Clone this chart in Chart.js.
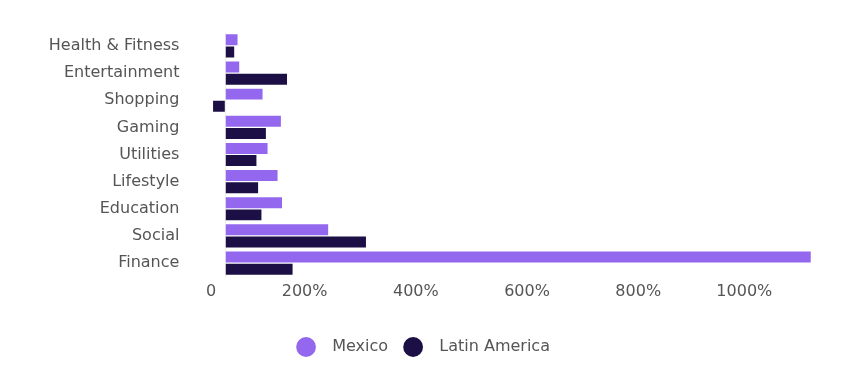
<!DOCTYPE html>
<html lang="en">
<head>
<meta charset="UTF-8">
<title>App category growth - Mexico vs Latin America</title>
<script src="https://cdn.jsdelivr.net/npm/chart.js"></script>
<style>
  html, body { margin: 0; padding: 0; background: #fff; }
  .chart-box { width: 865px; height: 373px; }
</style>
</head>
<body>
<div class="chart-box"><canvas id="growthChart"></canvas></div>
<script>
  // data (growth in %)
  const categories = ['Health & Fitness', 'Entertainment', 'Shopping', 'Gaming', 'Utilities', 'Lifestyle', 'Education', 'Social', 'Finance'];
  const mexicoValues = [22, 25, 67, 100, 76, 94, 102, 185, 1053];
  const latamValues = [16, 111, -22, 73, 56, 59, 65, 253, 121];
  const xTicks = [0, 200, 400, 600, 800, 1000];

  const textColor = '#555';
  const font = { family: 'DejaVu Sans', size: 16 };

  new Chart(document.getElementById('growthChart'), {
    type: 'bar',
    data: {
      labels: categories,
      datasets: [{
        label: 'Mexico',
        data: mexicoValues,
        backgroundColor: '#9468ee',
        borderWidth: 0
      }, {
        label: 'Latin America',
        data: latamValues,
        backgroundColor: '#1c0f45',
        borderWidth: 0
      }]
    },
    options: {
      indexAxis: 'y',
      responsive: true,
      maintainAspectRatio: false,
      animation: false,
      barPercentage: 0.9,
      categoryPercentage: 0.9,
      layout: { padding: { top: 32.4, right: 17, bottom: 8, left: 0 } },
      scales: {
        x: {
          type: 'linear',
          min: -25,
          max: 1120,
          afterBuildTicks: s => { s.ticks = xTicks.map(v => ({ value: v })); },
          afterFit: s => { s.height = 45.4; },
          border: { display: false },
          grid: {
            drawTicks: false,
            color: ctx => ctx.tick && ctx.tick.value === 0 ? '#eeeeee' : 'rgba(0,0,0,0)'
          },
          ticks: {
            align: 'end',
            labelOffset: -9,
            padding: 6,
            maxRotation: 0,
            color: textColor,
            font: font,
            callback: v => v === 0 ? '0' : v + '%'
          }
        },
        y: {
          afterFit: s => { s.width = 211.4; },
          border: { display: false },
          // invisible tick marks keep the labels away from the bars
          grid: { drawOnChartArea: false, drawTicks: true, tickLength: 32, color: 'rgba(0,0,0,0)' },
          ticks: { padding: 0, color: textColor, font: font }
        }
      },
      plugins: {
        legend: {
          position: 'bottom',
          labels: {
            usePointStyle: true,
            pointStyle: 'circle',
            boxWidth: 16,
            boxHeight: 14,
            padding: 17,
            color: textColor,
            font: font,
            generateLabels: chart => Chart.defaults.plugins.legend.labels.generateLabels(chart)
              .map(item => ({ ...item, text: '  ' + item.text }))
          }
        },
        tooltip: { enabled: false }
      }
    }
  });
</script>
</body>
</html>
